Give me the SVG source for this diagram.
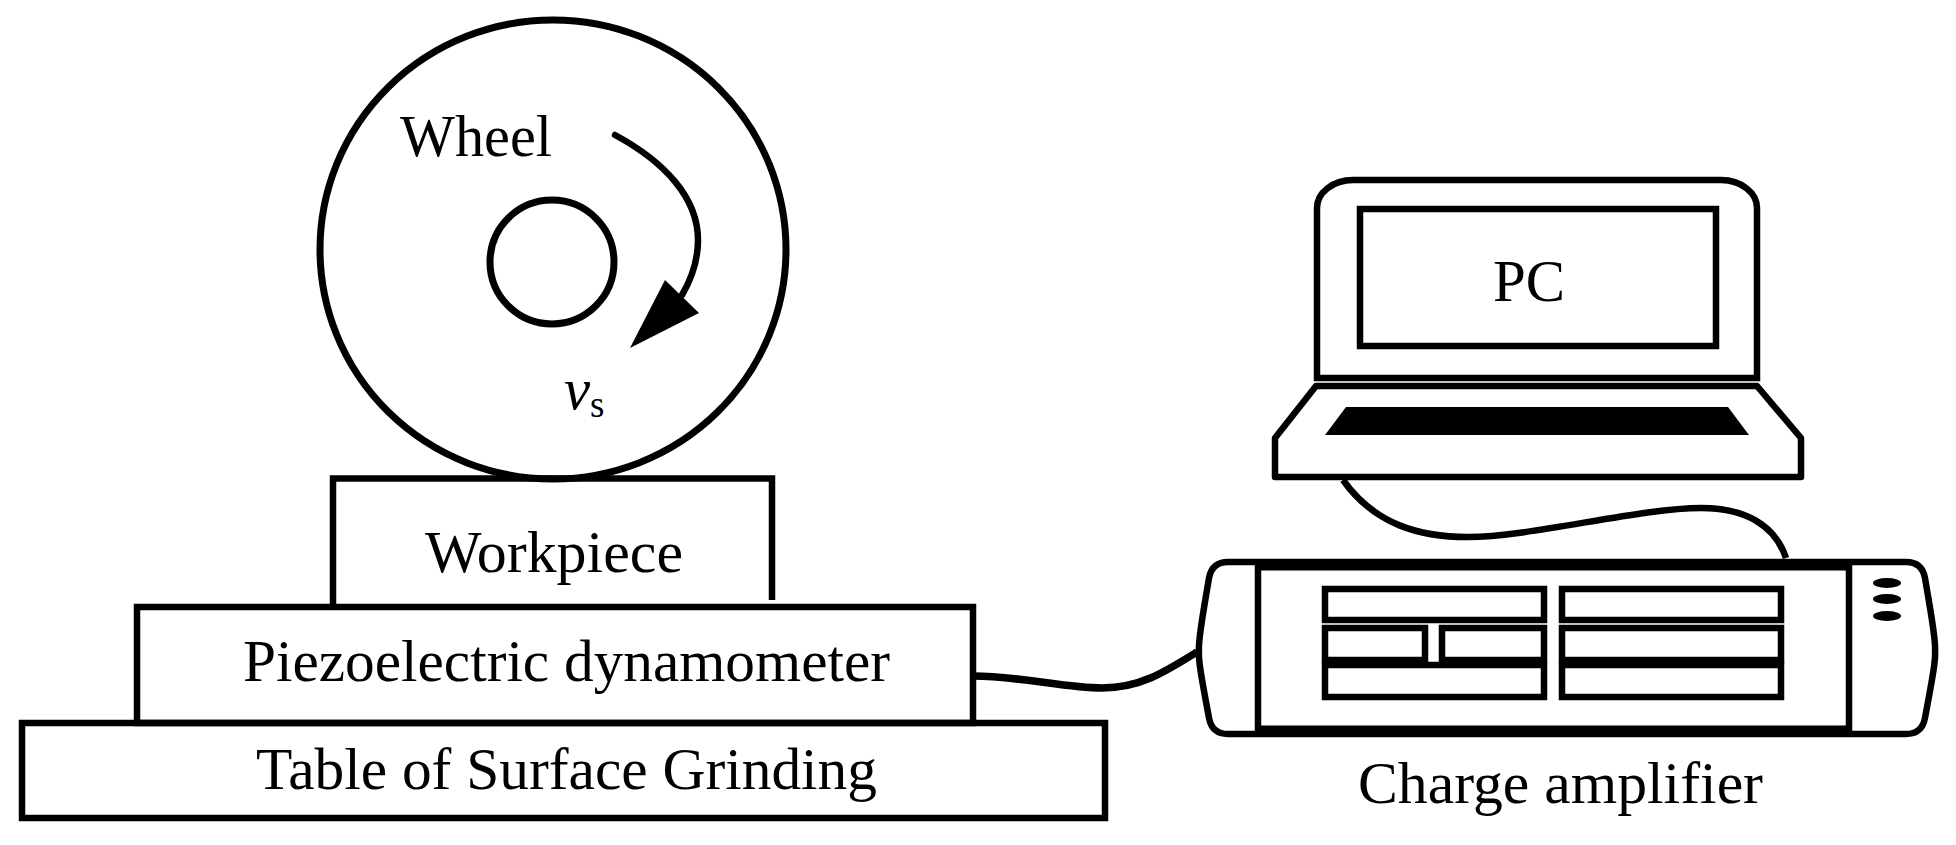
<svg xmlns="http://www.w3.org/2000/svg" width="1956" height="845" viewBox="0 0 1956 845">
<style>
.s{fill:none;stroke:#000;stroke-width:6.5}
.k{fill:#000;stroke:none}
text{font-family:"Liberation Serif","Times New Roman",serif;font-size:59px;fill:#000}
</style>
<rect width="1956" height="845" fill="#fff"/>
<g id="workpiece"><path class="s" d="M333 604V478.500H772V600"/><text x="425" y="572" textLength="258" lengthAdjust="spacingAndGlyphs">Workpiece</text></g>
<g id="wheel">
<ellipse class="s" cx="553" cy="249.500" rx="233" ry="229.500" style="stroke-width:7"/>
<circle class="s" cx="552" cy="262" r="62" style="stroke-width:7"/>
<text x="400" y="156" textLength="152" lengthAdjust="spacingAndGlyphs">Wheel</text>
<path class="k" d="M665 280L699 313L630 348Z"/>
<text x="564" y="409" style="font-style:italic">v</text>
<text x="590" y="417" style="font-size:37px">s</text>
</g>
<g id="dynamometer"><rect class="s" x="137" y="607" width="836" height="116"/><text x="243" y="681" textLength="647" lengthAdjust="spacingAndGlyphs">Piezoelectric dynamometer</text></g>
<g id="table"><rect class="s" x="22" y="723" width="1083" height="95"/><text x="256" y="789" textLength="621" lengthAdjust="spacingAndGlyphs">Table of Surface Grinding</text></g>
<g id="pc">
<path class="s" d="M1317 378V208A36 28 0 0 1 1353 180H1721A36 28 0 0 1 1757 208V378Z"/>
<rect class="s" x="1360" y="209" width="356" height="137"/>
<text x="1493" y="301" textLength="72" lengthAdjust="spacingAndGlyphs">PC</text>
<path class="s" stroke-linejoin="round" d="M1316 386H1757L1801 438V477H1275V438Z"/>
<path class="k" d="M1346 407H1728L1749 435H1325Z"/>
</g>
<g id="amplifier">
<path class="s" d="M1228 562H1906Q1922 562 1925 578C1932 620 1936 640 1935 650C1936 660 1932 680 1925 718Q1922 734 1906 734H1228Q1212 734 1209 718C1202 680 1198 660 1199 650C1198 640 1202 620 1209 578Q1212 562 1228 562Z"/>
<path class="s" style="stroke-width:11" d="M1258 565H1849M1258 731H1849"/>
<path class="s" d="M1258 562V734M1849 562V734"/>
<rect class="s" x="1325" y="589" width="219" height="31"/>
<rect class="s" x="1562" y="589" width="219" height="31"/>
<path class="s" d="M1325 628H1425V660H1325ZM1442 628H1544V660H1442Z"/>
<rect class="s" x="1562" y="628" width="219" height="32"/>
<rect class="s" x="1325" y="665" width="219" height="32"/>
<rect class="s" x="1562" y="665" width="219" height="32"/>
<ellipse class="k" cx="1887" cy="583" rx="14" ry="5"/>
<ellipse class="k" cx="1887" cy="599" rx="14" ry="5"/>
<ellipse class="k" cx="1887" cy="616" rx="14" ry="5"/>
<text x="1358" y="803" textLength="405" lengthAdjust="spacingAndGlyphs">Charge amplifier</text>
</g>
<g id="connectors">
<path class="s" stroke-linecap="round" d="M615 135C665 162 698 198 698 240C698 260 692 278 682 295"/>
<path class="s" d="M1343 480C1375 525 1420 537 1468 537C1530 537 1640 508 1701 508C1745 508 1775 525 1786 558"/>
<path class="s" style="stroke-width:7.500" d="M973 676C1020 676 1065 688 1102 688C1140 688 1165 672 1197 652"/>
</g>
</svg>
